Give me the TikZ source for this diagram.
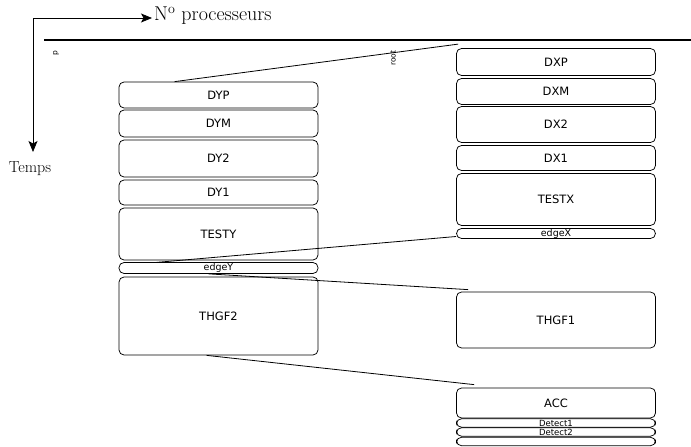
\documentclass[tikz,border=0pt]{standalone}
\usepackage{fontspec}
\setsansfont{DejaVu Sans}
\usetikzlibrary{arrows.meta}
\begin{document}
\begin{tikzpicture}[x=1pt,y=-1pt,
  task/.style={draw,rounded corners=5pt,line width=0.75pt,font=\sffamily\fontsize{11.5}{11.5}\selectfont,minimum width=199pt},
  thin/.style={draw,rounded corners=5pt,line width=0.75pt,font=\sffamily\fontsize{9.5}{9.5}\selectfont,inner sep=0pt,minimum width=199pt},
  tiny/.style={thin,font=\sffamily\fontsize{8.5}{8.5}\selectfont},
  link/.style={line width=0.8pt},
  axis/.style={line width=0.8pt},
  lab/.style={font=\fontsize{20}{21}\selectfont}]
\useasboundingbox (0,0) rectangle (691,447);
\clip (0,0) rectangle (691,447);
% axes
\coordinate (corner) at (33,18);
\coordinate (xend) at (152,18);
\coordinate (yend) at (33,152);
\draw[axis,-{Stealth[length=11pt,width=9pt,inset=2.5pt]}] (corner) -- (xend);
\draw[axis,-{Stealth[length=11pt,width=9pt,inset=2.5pt]}] (corner) -- (yend);
\node[lab,anchor=west,inner sep=1pt] (np) at (153,16) {N\textsuperscript{o} processeurs};
\node[font=\fontsize{16}{17}\selectfont,anchor=center] (tps) at (30,169) {Temps};
\coordinate (hl) at (44,40);
\coordinate (hr) at (691,40);
\draw[line width=1.1pt] (hl) -- (hr);
\node[rotate=90,font=\sffamily\fontsize{7.5}{7.5}\selectfont,inner sep=0pt] (p) at (56,53) {p};
\node[rotate=90,font=\sffamily\fontsize{7.5}{7.5}\selectfont,inner sep=0pt] (root) at (393,58) {root};
% left column
\node[task,minimum height=26pt] (DYP) at (218.5,95) {DYP};
\node[task,minimum height=27pt] (DYM) at (218.5,123.5) {DYM};
\node[task,minimum height=37pt] (DY2) at (218.5,158.5) {DY2};
\node[task,minimum height=25pt] (DY1) at (218.5,192.5) {DY1};
\node[task,minimum height=52pt] (TESTY) at (218.5,234) {TESTY};
\node[thin,minimum height=11pt] (edgeY) at (218.5,268) {edgeY};
\node[task,minimum height=78pt] (THGF2) at (218.5,316) {THGF2};
% right column
\node[task,minimum height=27pt] (DXP) at (556,62) {DXP};
\node[task,minimum height=26pt] (DXM) at (556,91.5) {DXM};
\node[task,minimum height=36pt] (DX2) at (556,124.5) {DX2};
\node[task,minimum height=25pt] (DX1) at (556,158) {DX1};
\node[task,minimum height=52pt] (TESTX) at (556,199.5) {TESTX};
\node[thin,minimum height=10pt] (edgeX) at (556,233.5) {edgeX};
\node[task,minimum height=56pt] (THGF1) at (556,320) {THGF1};
\node[task,minimum height=30pt] (ACC) at (556,403) {ACC};
\node[tiny,minimum height=8.5pt] (D1) at (556,423) {Detect1};
\node[tiny,minimum height=8.5pt] (D2) at (556,432) {Detect2};
\node[tiny,minimum height=8.5pt] (D3) at (556,441.5) {};
% links
\draw[link] ([xshift=56pt]DYP.north west) -- ([xshift=2pt,yshift=4pt]DXP.north west);
\draw[link] ([xshift=38pt,yshift=-2pt]TESTY.south west) -- ([yshift=-3pt]edgeX.west);
\draw[link] ([xshift=90pt]edgeY.south west) -- ([xshift=12pt,yshift=2pt]THGF1.north west);
\draw[link] ([xshift=88pt]THGF2.south west) -- ([xshift=18pt,yshift=3pt]ACC.north west);
\end{tikzpicture}
\end{document}
